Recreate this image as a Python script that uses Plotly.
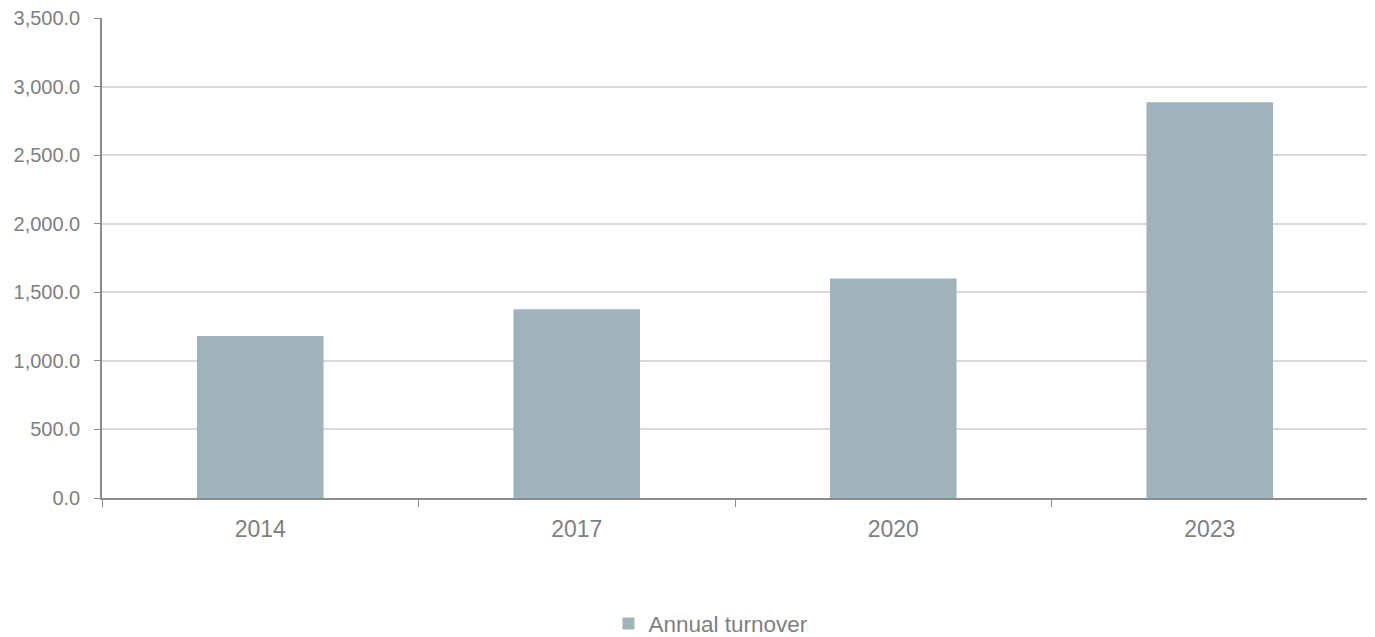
import plotly.graph_objects as go

years = ["2014", "2017", "2020", "2023"]
turnover = [1182, 1377, 1601, 2886]
series_name = "Annual turnover"

fig = go.Figure()
fig.add_trace(go.Bar(
    x=years, y=turnover, name=series_name,
    marker=dict(color="#a1b3ba", line=dict(width=0)),
    showlegend=True,
))

fig.update_layout(
    width=1367, height=629,
    margin=dict(l=94, r=7, t=10, b=139, autoexpand=False),
    paper_bgcolor="white", plot_bgcolor="white",
    font=dict(family="Liberation Sans, Arial, sans-serif", size=20, color="#7f7f7f"),
    bargap=0.6,
    showlegend=True,
    legend=dict(orientation="h", x=0.481, xanchor="center", y=-0.262, yanchor="middle",
                font=dict(size=22.5, color="#7f7f7f"), itemwidth=30),
)
fig.update_xaxes(
    type="category", showline=True, linecolor="#8c8c8c", linewidth=1.5,
    ticks="outside", tickson="boundaries", ticklen=7, tickcolor="#8c8c8c",
    showgrid=False, tickfont=dict(size=23, color="#7f7f7f"), automargin=False,
    ticklabelstandoff=10,
)
fig.update_yaxes(
    range=[0, 3500], dtick=500, tickformat=",.1f",
    showline=True, linecolor="#8c8c8c", linewidth=1.5,
    ticks="outside", ticklen=6, tickcolor="#8c8c8c",
    showgrid=True, gridcolor="#d9d9d9", gridwidth=1.5,
    zeroline=False, tickfont=dict(size=20, color="#7f7f7f"), automargin=False,
    ticklabelstandoff=10, ticklabeloverflow="allow",
)

fig.write_html("out.html")
